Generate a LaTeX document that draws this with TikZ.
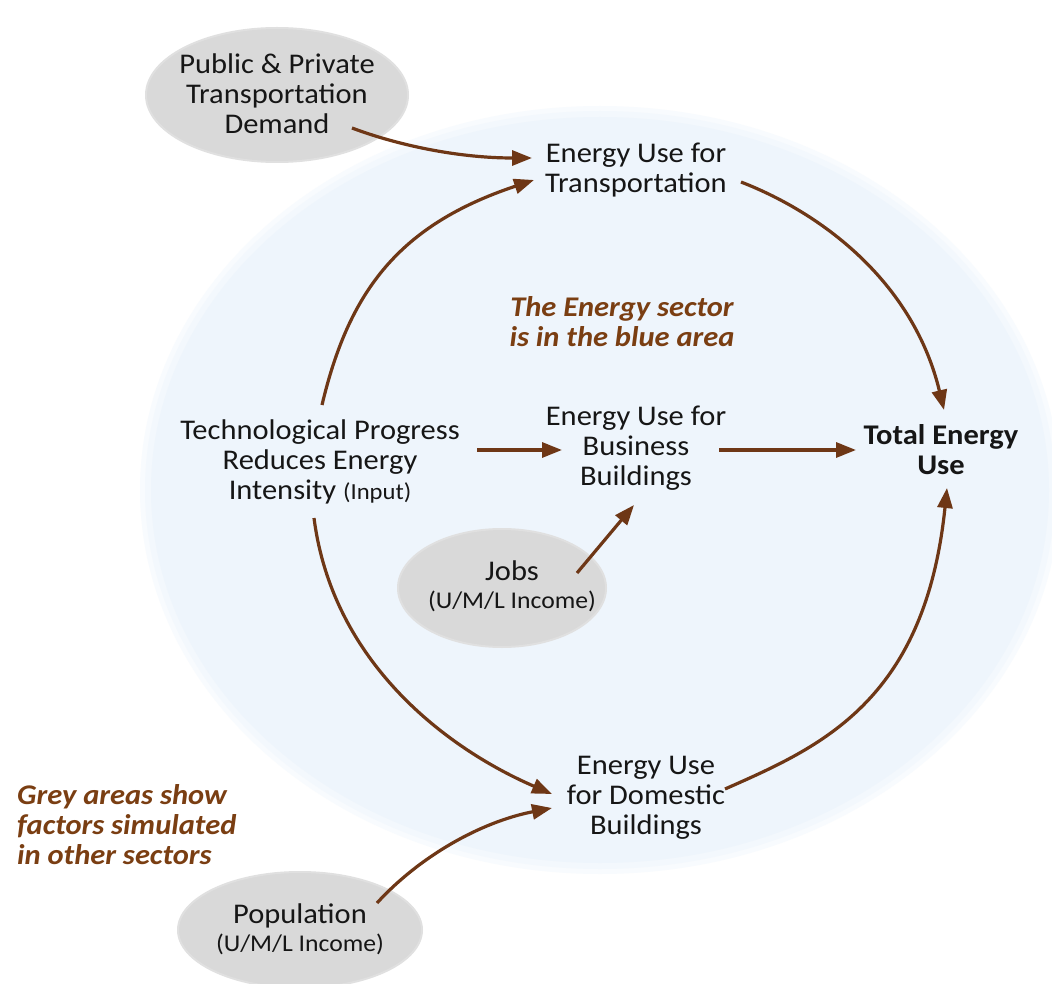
\documentclass[tikz,border=0pt]{standalone}
\usepackage{fontspec}
\setmainfont{Carlito}[FakeStretch=1.07]
\usetikzlibrary{arrows.meta,shapes.geometric,calc}
\definecolor{bluebg}{RGB}{238,245,252}
\definecolor{bluebgA}{RGB}{243,248,253}
\definecolor{bluebgB}{RGB}{248,251,254}
\definecolor{greyfill}{RGB}{217,217,217}
\definecolor{greyfillA}{RGB}{224,224,224}
\definecolor{arrbrown}{RGB}{110,55,22}
\definecolor{txtbrown}{RGB}{122,62,18}
\definecolor{txtblack}{RGB}{22,22,22}
\tikzset{
  lbl/.style={align=center, text=txtblack, inner sep=0pt, font=\fontsize{28.5}{30}\selectfont},
  lblsm/.style={align=center, text=txtblack, inner sep=0pt, font=\fontsize{28.5}{28}\selectfont},
  note/.style={text=txtbrown, inner sep=0pt, font=\fontsize{28.5}{30}\selectfont\bfseries\itshape},
  greyell/.style={ellipse, fill=greyfill, draw=greyfillA, line width=2pt, inner sep=0pt},
  flow/.style={draw=arrbrown, line width=3.2pt, -{Triangle[length=20pt,width=15pt]}},
}
\begin{document}
\begin{tikzpicture}[x=1pt,y=-1pt]
\useasboundingbox (0,0) rectangle (1052,984);
\fill[white] (0,0) rectangle (1052,984);
% blue sector area with soft edge
\fill[bluebgB] (600,490) ellipse [x radius=460, y radius=384];
\fill[bluebgA] (600,490) ellipse [x radius=455, y radius=379];
\fill[bluebg] (600,490) ellipse [x radius=449, y radius=373];
% grey areas
\node[greyell, minimum width=262, minimum height=134] (pubE) at (277,95) {};
\node[greyell, minimum width=208, minimum height=118] (jobsE) at (502,588) {};
\node[greyell, minimum width=244, minimum height=116] (popE) at (300,930) {};
% labels
\node[lbl] (pub) at (277,94) {Public \& Private\\Transportation\\Demand};
\node[lbl] (transp) at (636,170) {Energy Use for\\Transportation};
\node[lbl] (tech) at (320,462) {Technological Progress\\Reduces Energy\\Intensity {\fontsize{23}{30}\selectfont(Input)}};
\node[lbl] (bus) at (636,448) {Energy Use for\\Business\\Buildings};
\node[lbl, font=\fontsize{28.5}{30}\selectfont\bfseries] (total) at (941,450) {Total Energy\\Use};
\node[lblsm] (jobs) at (512,586) {Jobs\\{\fontsize{24}{28}\selectfont(U/M/L Income)}};
\node[lbl] (dom) at (646,798) {Energy Use\\for Domestic\\Buildings};
\node[lblsm] (pop) at (300,929) {Population\\{\fontsize{24}{28}\selectfont(U/M/L Income)}};
\node[note, align=center] (sector) at (622,322) {The Energy sector\\is in the blue area};
\node[note, align=left, anchor=west] (grey) at (17,825) {Grey areas show\\factors simulated\\in other sectors};
% connectors
\draw[flow] ($(pub)+(75,34)$) .. controls (400,146) and (460,158) .. ($(transp)+(-104,-12)$);
\draw[flow] ($(tech)+(2,-57)$) .. controls (349,291) and (399,225) .. ($(transp)+(-102,10)$);
\draw[flow] ($(transp)+(105,12)$) .. controls (826,215) and (914,285) .. ($(total)+(3,-40)$);
\draw[flow] ($(tech)+(157,-12)$) -- ($(bus)+(-74,2)$);
\draw[flow] ($(bus)+(83,2)$) -- ($(total)+(-85,0)$);
\draw[flow] ($(jobs)+(65,-13)$) -- ($(bus)+(-2,57)$);
\draw[flow] ($(tech)+(-6,56)$) .. controls (333,665) and (450,750) .. ($(dom)+(-94,-4)$);
\draw[flow] ($(pop)+(77,-26)$) .. controls (419,857) and (480,822) .. ($(dom)+(-94,10)$);
\draw[flow] ($(dom)+(79,-9)$) .. controls (820,747) and (925,702) .. ($(total)+(6,38)$);
\end{tikzpicture}
\end{document}
